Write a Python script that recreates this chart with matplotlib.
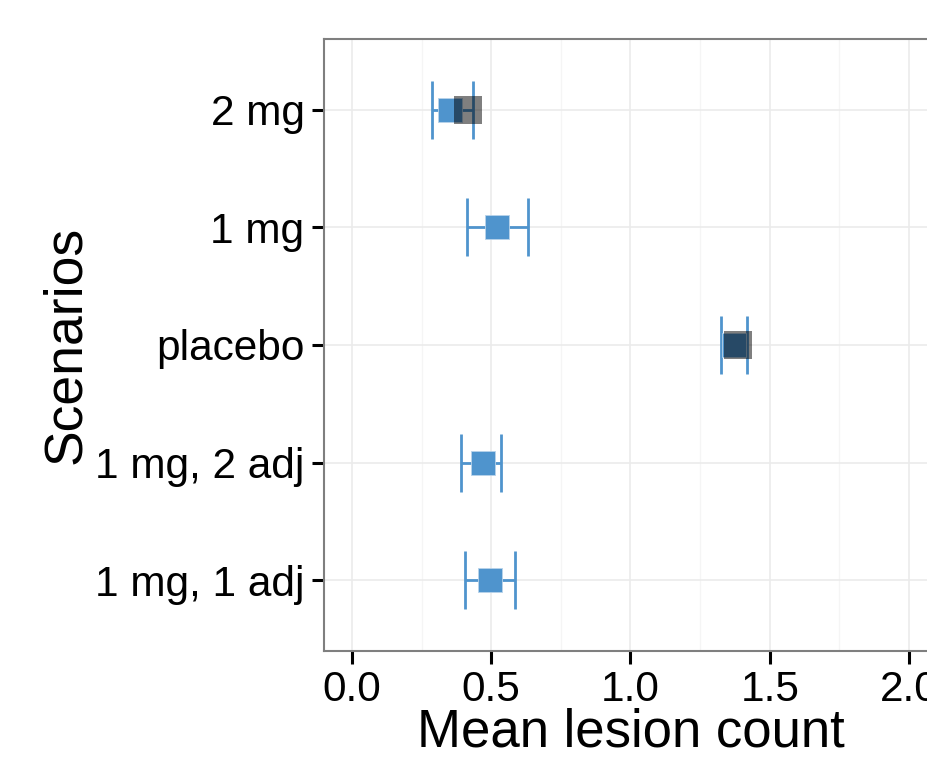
import numpy as np
import matplotlib.pyplot as plt

plt.rcParams['font.family'] = ['Liberation Sans', 'DejaVu Sans']

# data
scenarios = ['1 mg, 1 adj', '1 mg, 2 adj', 'placebo', '1 mg', '2 mg']
model_mean = [0.495, 0.470, 1.371, 0.521, 0.352]
model_lo = [0.406, 0.391, 1.325, 0.413, 0.288]
model_hi = [0.585, 0.535, 1.418, 0.632, 0.434]
# observed means (only for two scenarios)
obs_names = ['placebo', '2 mg']
obs_mean = [1.386, 0.417]

blue = '#4F94CD'

fig = plt.figure(figsize=(9.27, 7.58), dpi=100)
ax = fig.add_axes([0.3495, 0.1412, 0.6613, 0.8074])

ypos = np.arange(1, len(scenarios) + 1)
ax.errorbar(model_mean, ypos,
            xerr=[np.array(model_mean) - np.array(model_lo),
                  np.array(model_hi) - np.array(model_mean)],
            fmt='none', ecolor=blue, elinewidth=2.0, capsize=21, capthick=2.0, zorder=3)
ax.scatter(model_mean, ypos, marker='s', s=280, color=blue,
           edgecolors='#B8D3EA', linewidths=0.6, zorder=4)
obs_y = [scenarios.index(n) + 1 for n in obs_names]
ax.scatter(obs_mean, obs_y, marker='s', s=410, color='black', alpha=0.5,
           linewidths=0, zorder=5)

ax.set_xlim(-0.1, 2.1)
ax.set_ylim(0.4, 5.6)
ax.set_xticks([0.0, 0.5, 1.0, 1.5, 2.0])
ax.set_xticklabels(['0.0', '0.5', '1.0', '1.5', '2.0'])
ax.set_xticks([0.25, 0.75, 1.25, 1.75], minor=True)
ax.set_yticks(ypos)
ax.set_yticklabels(scenarios)

ax.grid(True, which='major', color='#EBEBEB', linewidth=1.2, zorder=0)
ax.grid(True, which='minor', axis='x', color='#F5F5F5', linewidth=1.0, zorder=0)
ax.set_axisbelow(True)
ax.tick_params(which='minor', length=0)
ax.tick_params(which='major', length=9, width=2.2, color='black',
               labelsize=30.5, pad=5)
for sp in ax.spines.values():
    sp.set_color('#7F7F7F')
    sp.set_linewidth(1.5)

ax.set_xlabel('Mean lesion count', fontsize=38, labelpad=-2)
ax.set_ylabel('Scenarios', fontsize=38.5, labelpad=3)

fig.savefig('out.png', dpi=100)
